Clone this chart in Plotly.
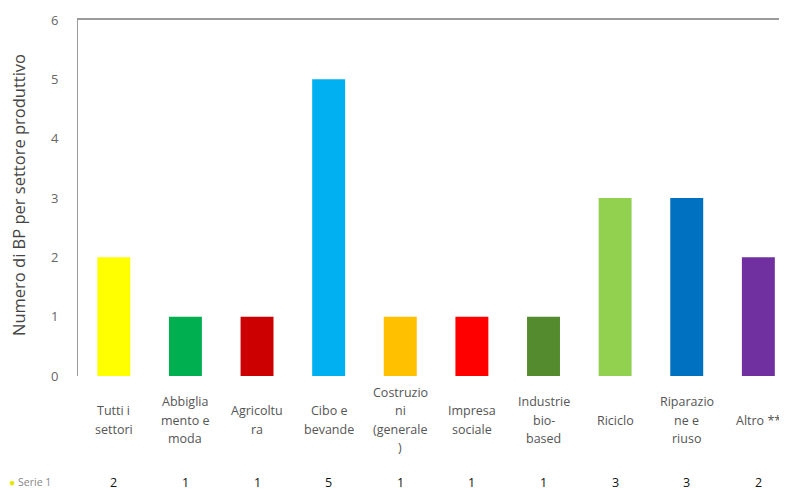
import plotly.graph_objects as go

categories = ["Tutti i settori", "Abbigliamento e moda", "Agricoltura", "Cibo e bevande",
              "Costruzioni (generale)", "Impresa sociale", "Industrie bio-based",
              "Riciclo", "Riparazione e riuso", "Altro **"]
category_labels = ["Tutti i<br>settori", "Abbiglia<br>mento e<br>moda", "Agricoltu<br>ra",
                   "Cibo e<br>bevande", "Costruzio<br>ni<br>(generale<br>)", "Impresa<br>sociale",
                   "Industrie<br>bio-<br>based", "Riciclo", "Riparazio<br>ne e<br>riuso", "Altro **"]
values = [2, 1, 1, 5, 1, 1, 1, 3, 3, 2]
colors = ["#FFFF00", "#00B050", "#CC0000", "#00B0F0", "#FFC000", "#FF0000",
          "#558B2F", "#92D050", "#0070C0", "#7030A0"]
series_name = "Serie 1"
y_title = "Numero di BP per settore produttivo"
y_ticks = [0, 1, 2, 3, 4, 5, 6]

xs = list(range(len(categories)))

fig = go.Figure()
fig.add_trace(go.Bar(x=xs, y=values, marker=dict(color=colors, line=dict(width=0)),
                     width=0.46, name=series_name, showlegend=False,
                     hovertext=categories))

FONT = "Open Sans"
OFF = 8  # page body margin
PAGE_W, PAGE_H = 787, 490
W, H = PAGE_W - OFF, PAGE_H - OFF
# desired plot area in page pixels
PL, PT, PR, PB = 78, 20, 787, 376
L, T = PL - OFF, PT - OFF
R = W - (PR - OFF)
B = H - (PB - OFF)
pw = PR - PL
ph = PB - PT
LINE_H = 18.5
LABEL_CENTER = 420

def px_to_paper_x(px):
    return (px - PL) / pw

def px_to_paper_y(py):
    return (PB - py) / ph

annotations = []
for i, lab in enumerate(category_labels):
    lines = lab.split("<br>")
    n = len(lines)
    for k, line in enumerate(lines):
        py = LABEL_CENTER + (k - (n - 1) / 2) * LINE_H
        annotations.append(dict(x=i, y=px_to_paper_y(py), xref="x", yref="paper",
                                text=line, showarrow=False, xanchor="center", yanchor="middle",
                                font=dict(family=FONT, size=12.5, color="#555555")))
    annotations.append(dict(x=i, y=px_to_paper_y(482), xref="x", yref="paper",
                            text=str(values[i]), showarrow=False, xanchor="center",
                            yanchor="middle", font=dict(family=FONT, size=12.5, color="#111111")))
annotations.append(dict(x=px_to_paper_x(7), y=px_to_paper_y(482), xref="paper", yref="paper",
                        text="<span style='color:#E6E600'>●</span> " + series_name,
                        showarrow=False, xanchor="left", yanchor="middle",
                        font=dict(family=FONT, size=10.5, color="#888888")))
annotations.append(dict(x=px_to_paper_x(18), y=px_to_paper_y(195), xref="paper", yref="paper",
                        text=y_title, textangle=-90, showarrow=False,
                        xanchor="center", yanchor="middle",
                        font=dict(family=FONT, size=16.5, color="#444444")))

fig.update_layout(
    width=W, height=H,
    margin=dict(l=L, r=R, t=T, b=B, pad=0, autoexpand=False),
    paper_bgcolor="white", plot_bgcolor="white",
    annotations=annotations,
    xaxis=dict(range=[-0.5, 9.4], side="top", showline=True, linecolor="#9a9a9a",
               linewidth=1.5, showticklabels=False, showgrid=False, zeroline=False,
               ticks=""),
    yaxis=dict(range=[0, 6], tickvals=y_ticks, showline=True, linecolor="#9a9a9a",
               linewidth=1, showgrid=False, zeroline=False, ticks="",
               ticklabelstandoff=16,
               tickfont=dict(family=FONT, size=13, color="#666666")),
)

fig.write_html("out.html")
